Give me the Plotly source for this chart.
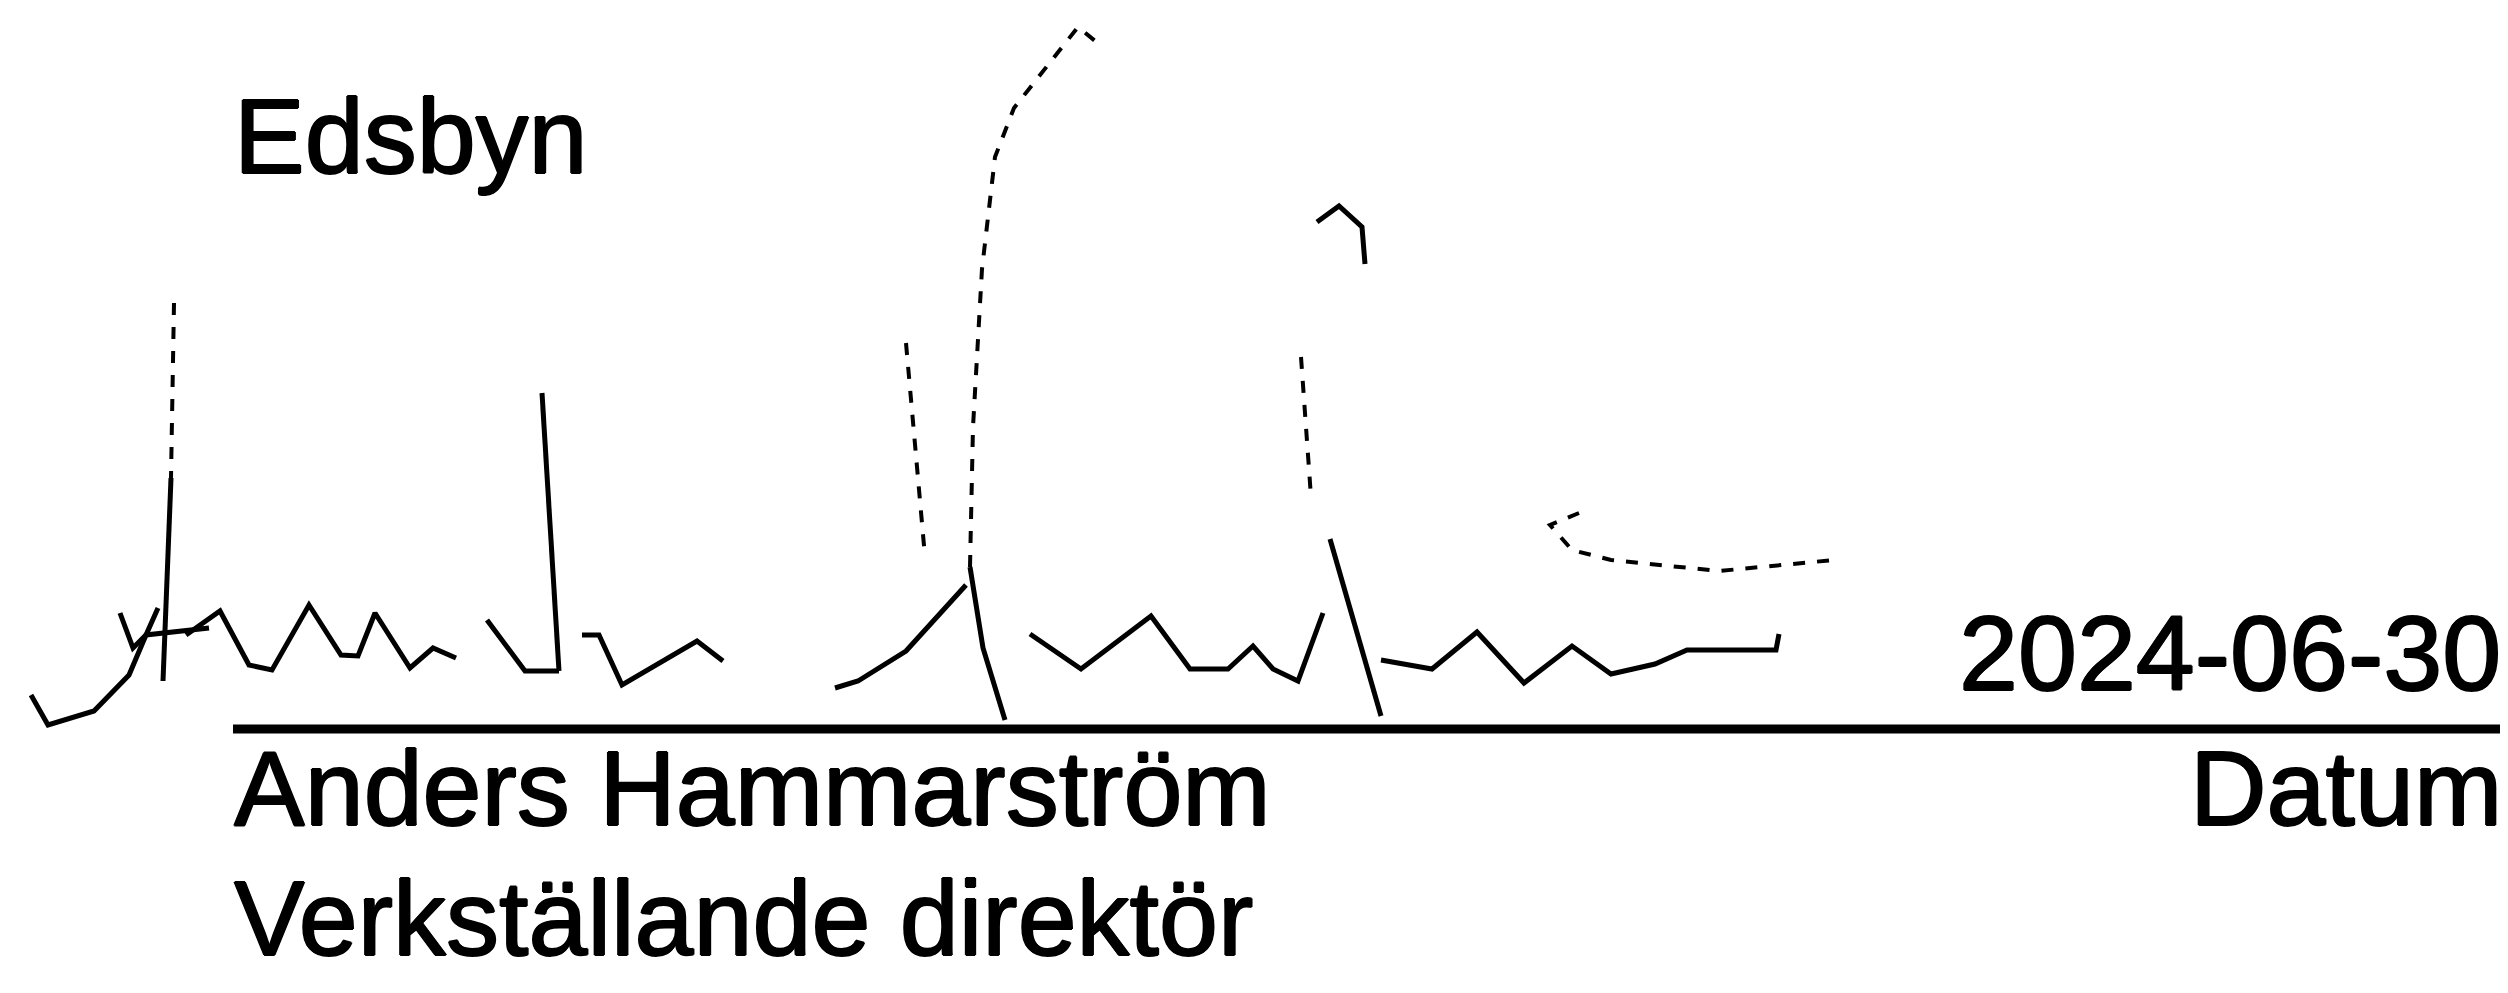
import plotly.graph_objects as go

# ---- text content ----
place_label = "Edsbyn"
date_label = "2024-06-30"
name_label = "Anders Hammarström"
role_label = "Verkställande direktör"
date_caption = "Datum"

# ---- signature strokes (pixel space, y downward); None separates strokes ----
# solid pen strokes
sig_solid_x = [23, 40, 86, 121, 138, 150, None,
               163, 155, None,
               112, 125, 138, 201, None,
               178, 212, 241, 264, 301, 333, 350, 367, 402, 425, 448, None,
               479, 517, 551, None,
               534, 542, 551, None,
               574, 591, 614, 689, 715, None,
               827, 850, 898, 958, None,
               997, 975, 962, None,
               1022, 1073, 1143, 1182, 1220, 1245, 1265, 1290, 1315, None,
               1309, 1331, 1354, 1357, None,
               1322, 1373, None,
               1373, 1424, 1469, 1516, 1564, 1603, 1647, 1679, 1768, 1771]
sig_solid_y = [687, 717, 703, 667, 627, 600, None,
               470, 673, None,
               605, 640, 627, 620, None,
               627, 603, 657, 662, 597, 647, 648, 605, 660, 640, 650, None,
               612, 663, 663, None,
               385, 520, 663, None,
               627, 627, 677, 633, 653, None,
               680, 673, 643, 577, None,
               712, 640, 559, None,
               626, 661, 608, 661, 661, 638, 661, 673, 605, None,
               214, 198, 219, 256, None,
               531, 708, None,
               652, 661, 624, 675, 638, 666, 656, 642, 642, 626]
# broken / faint pen strokes
sig_broken_x = [166, 163, None,
                898, 917, None,
                962, 965, 974, 987, 1006, 1070, 1092, None,
                1293, 1303, None,
                1571, 1542, 1564, 1603, 1711, 1826]
sig_broken_y = [295, 470, None,
                335, 549, None,
                559, 419, 261, 149, 100, 19, 37, None,
                349, 489, None,
                505, 517, 542, 552, 563, 552]

# ---- rule line ----
rule_x = [225, 2492]
rule_y = [721, 721]

W, H = 2508, 993
FONT = "Liberation Sans, Arial, sans-serif"
FS = 106
SHADOW = "1px 0px 0px black, -1px 0px 0px black, 0px 1px 0px black, 0px -1px 0px black"

fig = go.Figure()
fig.add_trace(go.Scatter(x=sig_solid_x, y=sig_solid_y, mode="lines",
                         line=dict(color="black", width=5),
                         hoverinfo="skip", showlegend=False))
fig.add_trace(go.Scatter(x=sig_broken_x, y=sig_broken_y, mode="lines",
                         line=dict(color="black", width=4, dash="dash"),
                         hoverinfo="skip", showlegend=False))
fig.add_trace(go.Scatter(x=rule_x, y=rule_y, mode="lines",
                         line=dict(color="black", width=9),
                         hoverinfo="skip", showlegend=False))

texts = [
    (place_label, 224, 128, "left"),
    (date_label, 2495, 645, "right"),
    (name_label, 224, 780, "left"),
    (date_caption, 2496, 780, "right"),
    (role_label, 224, 910, "left"),
]
for t, x, y, anc in texts:
    fig.add_annotation(x=x, y=y, xref="x", yref="y", text=t, showarrow=False,
                       xanchor=anc, yanchor="middle",
                       font=dict(family=FONT, size=FS, color="black", shadow=SHADOW))

fig.update_layout(
    width=W, height=H, margin=dict(l=0, r=0, t=0, b=0),
    paper_bgcolor="white", plot_bgcolor="white",
    xaxis=dict(range=[0, W], visible=False, fixedrange=True),
    yaxis=dict(range=[H, 0], visible=False, fixedrange=True),
)
fig.write_html("out.html")
